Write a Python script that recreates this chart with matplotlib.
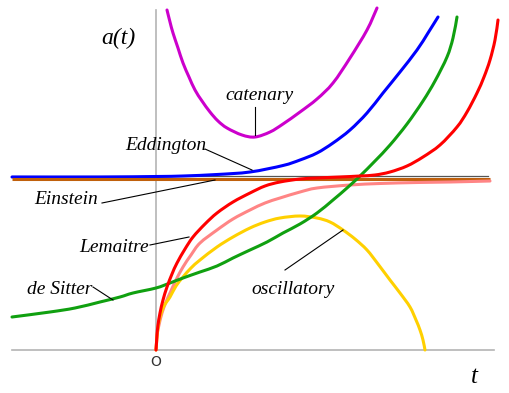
import matplotlib
matplotlib.use("Agg")
import matplotlib.pyplot as plt
from matplotlib.path import Path
from matplotlib.patches import PathPatch

# Scale factor a(t) for the classic Friedmann-Lemaitre cosmological models
catenary_t = [0.11, 0.14, 0.17, 0.22, 0.27, 0.33, 0.39, 0.46, 0.54, 0.62, 0.71, 0.86, 0.99,
              1.14, 1.27, 1.44, 1.61, 1.77, 1.94, 2.11, 2.21]
catenary_a = [3.40, 3.28, 3.17, 3.02, 2.87, 2.73, 2.60, 2.49, 2.38, 2.29, 2.22, 2.15, 2.13,
              2.18, 2.26, 2.38, 2.51, 2.67, 2.92, 3.20, 3.42]

eddington_t = [-1.44, -0.56, 0.0, 0.27, 0.61, 0.94, 1.27, 1.44, 1.61, 1.77, 1.94, 2.11, 2.27,
               2.44, 2.61, 2.72, 2.82]
eddington_a = [1.73, 1.73, 1.735, 1.74, 1.755, 1.78, 1.845, 1.90, 1.97, 2.07, 2.20, 2.37, 2.57,
               2.78, 3.00, 3.17, 3.33]

desitter_t = [-1.44, -1.06, -0.81, -0.56, -0.36, -0.23, 0.0, 0.14, 0.27, 0.44, 0.61, 0.77, 0.94,
              1.11, 1.27, 1.44, 1.61, 1.77, 1.91, 2.04, 2.19, 2.34, 2.51, 2.67, 2.79, 2.91,
              2.97, 3.01]
desitter_a = [0.33, 0.38, 0.42, 0.48, 0.53, 0.57, 0.62, 0.67, 0.72, 0.78, 0.84, 0.92, 1.00,
              1.08, 1.17, 1.26, 1.37, 1.50, 1.62, 1.74, 1.89, 2.05, 2.26, 2.49, 2.69, 2.93,
              3.12, 3.33]

lemaitre_t = [0.0, 0.005, 0.01, 0.02, 0.04, 0.07, 0.11, 0.16, 0.21, 0.29, 0.37, 0.49, 0.61,
              0.77, 0.94, 1.09, 1.24, 1.44, 1.61, 1.84, 2.04, 2.19, 2.34, 2.51, 2.67, 2.84,
              3.01, 3.11, 3.21, 3.28, 3.34, 3.39, 3.42]
lemaitre_a = [0.0, 0.07, 0.15, 0.25, 0.37, 0.50, 0.63, 0.76, 0.87, 1.01, 1.13, 1.26, 1.37,
              1.48, 1.57, 1.64, 1.68, 1.71, 1.72, 1.73, 1.74, 1.75, 1.78, 1.84, 1.93, 2.05,
              2.23, 2.38, 2.57, 2.73, 2.90, 3.10, 3.30]

edd_lemaitre_t = [0.0, 0.005, 0.01, 0.03, 0.06, 0.10, 0.14, 0.20, 0.27, 0.35, 0.44, 0.61, 0.77,
                  0.94, 1.09, 1.24, 1.44, 1.61, 1.94, 2.24, 2.61, 2.94, 3.34]
edd_lemaitre_a = [0.0, 0.07, 0.15, 0.25, 0.37, 0.48, 0.57, 0.70, 0.83, 0.95, 1.07, 1.20, 1.31,
                  1.40, 1.47, 1.52, 1.58, 1.62, 1.65, 1.665, 1.675, 1.68, 1.69]

oscillatory_t = [0.0, 0.005, 0.01, 0.02, 0.04, 0.08, 0.14, 0.20, 0.27, 0.35, 0.44, 0.61, 0.77,
                 0.94, 1.09, 1.24, 1.44, 1.61, 1.74, 1.87, 1.99, 2.11, 2.22, 2.34, 2.44, 2.54,
                 2.60, 2.64, 2.67, 2.69]
oscillatory_a = [0.0, 0.07, 0.13, 0.22, 0.33, 0.44, 0.53, 0.64, 0.73, 0.82, 0.90, 1.03, 1.13,
                 1.22, 1.28, 1.32, 1.34, 1.32, 1.28, 1.20, 1.11, 1.00, 0.86, 0.70, 0.57, 0.43,
                 0.30, 0.20, 0.10, 0.0]

einstein_t = [-1.44, 3.34]
einstein_a = [1.71, 1.71]

asymptote_t = [-1.44, 3.32]
asymptote_a = [1.745, 1.745]

# Labels: (text, text position, leader line start, leader line end)
labels = [
    ("catenary", (1.03, 2.55), (0.99, 2.43), (0.99, 2.15)),
    ("Eddington", (0.10, 2.04), (0.49, 2.01), (0.96, 1.80)),
    ("Einstein", (-0.90, 1.50), (-0.54, 1.47), (0.59, 1.70)),
    ("Lemaitre", (-0.42, 1.02), (-0.06, 1.05), (0.33, 1.13)),
    ("de Sitter", (-0.96, 0.61), (-0.63, 0.63), (-0.43, 0.50)),
    ("oscillatory", (1.37, 0.61), (1.29, 0.80), (1.87, 1.20)),
]


def smooth_path(xs, ys):
    """Cubic Bezier path passing through every listed point (Catmull-Rom tangents)."""
    pts = list(zip(xs, ys))
    n = len(pts)
    verts = [pts[0]]
    codes = [Path.MOVETO]
    for i in range(n - 1):
        p0 = pts[i - 1] if i > 0 else pts[i]
        p1 = pts[i]
        p2 = pts[i + 1]
        p3 = pts[i + 2] if i + 2 < n else pts[i + 1]
        c1 = (p1[0] + (p2[0] - p0[0]) / 6.0, p1[1] + (p2[1] - p0[1]) / 6.0)
        c2 = (p2[0] - (p3[0] - p1[0]) / 6.0, p2[1] - (p3[1] - p1[1]) / 6.0)
        verts += [c1, c2, p2]
        codes += [Path.CURVE4, Path.CURVE4, Path.CURVE4]
    return Path(verts, codes)


fig = plt.figure(figsize=(5.09, 3.93), dpi=100)
ax = fig.add_axes([0, 0, 1, 1])
ax.set_xlim(-1.56, 3.53)
ax.set_ylim(-0.43, 3.50)
ax.axis("off")

axis_color = "#b4b4b4"
ax.plot([-1.44, 3.38], [0, 0], color=axis_color, lw=1.2, zorder=1)
ax.plot([0, 0], [0, 3.40], color=axis_color, lw=1.2, zorder=1)

lw = 2.2
ax.plot(asymptote_t, asymptote_a, color="#555555", lw=0.9, zorder=2)


def curve(xs, ys, color, z):
    ax.add_patch(PathPatch(smooth_path(xs, ys), facecolor="none", edgecolor=color,
                           lw=lw, zorder=z, capstyle="round", joinstyle="round"))


curve(eddington_t, eddington_a, "#0000ff", 3)
ax.plot(einstein_t, einstein_a, color="#c0600c", lw=lw, zorder=4, solid_capstyle="butt")
curve(edd_lemaitre_t, edd_lemaitre_a, "#ff8585", 5)
curve(oscillatory_t, oscillatory_a, "#ffd000", 6)
curve(desitter_t, desitter_a, "#10a010", 7)
curve(lemaitre_t, lemaitre_a, "#ff0000", 8)
curve(catenary_t, catenary_a, "#cc00cc", 9)

serif = ["Liberation Serif", "DejaVu Serif"]
for text, pos, p0, p1 in labels:
    ax.text(pos[0], pos[1], text, fontsize=14, style="italic", family=serif,
            ha="center", va="center", zorder=10)
    ax.plot([p0[0], p1[0]], [p0[1], p1[1]], color="black", lw=0.8, zorder=10)

ax.text(-0.38, 3.12, "a(t)", fontsize=17, style="italic", family=serif,
        ha="center", va="center")
ax.text(3.18, -0.27, "t", fontsize=18, style="italic", family=serif,
        ha="center", va="center")
ax.text(0.0, -0.125, "O", fontsize=10, family="DejaVu Sans", ha="center", va="center",
        color="#333333")

fig.savefig("out.png", dpi=100)
